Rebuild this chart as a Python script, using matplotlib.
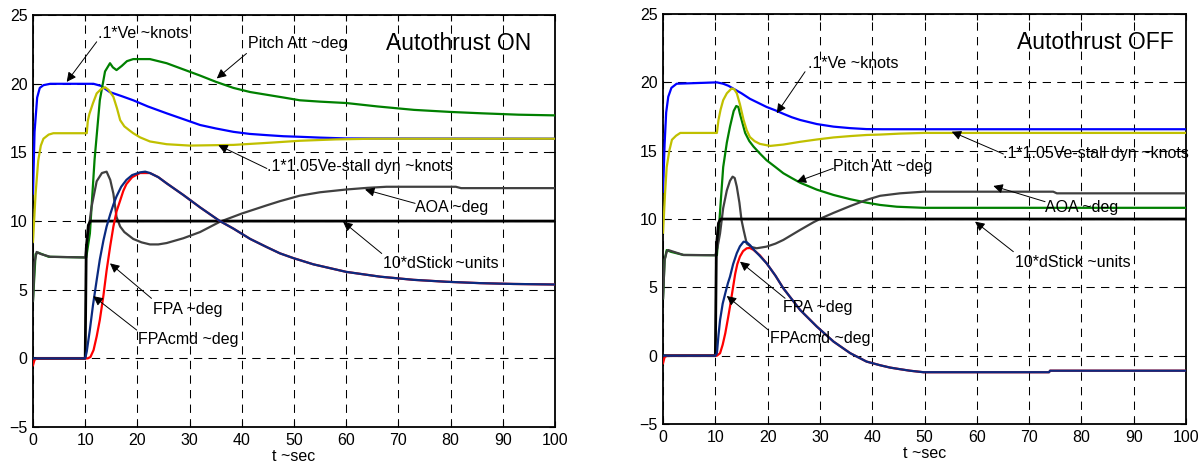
import matplotlib
matplotlib.use("Agg")
import matplotlib.pyplot as plt

plt.rcParams['font.family'] = ['Liberation Sans', 'DejaVu Sans']

# ---------------- Autothrust ON (panel izquierdo) ----------------
t_ve_on = [0, 0.3, 0.8, 1.3, 2, 3.3, 11.6, 13, 14.7, 17, 19.2, 22, 25.6, 29, 32, 35, 38.4,
           41.5, 44.8, 48, 51.1, 55, 60, 100]
ve_on = [12.0, 16.5, 19.0, 19.7, 19.9, 20.0, 20.0, 19.85, 19.4, 19.1, 18.8, 18.35, 17.85, 17.4,
         17.0, 16.75, 16.5, 16.35, 16.26, 16.18, 16.14, 16.08, 16.02, 16.0]

t_stall_on = [0, 0.5, 1, 1.5, 2, 3, 3.9, 10.3, 10.5, 10.8, 11.5, 12.2, 13, 13.8, 14.5, 15.4,
              16.1, 16.7, 17.5, 18.5, 19.2, 20.5, 22.4, 25.6, 30, 38.4, 45, 51.1, 58, 65, 100]
stall_on = [8.5, 12.0, 14.4, 15.5, 16.0, 16.3, 16.4, 16.4, 17.3, 17.8, 18.6, 19.3, 19.6, 19.75,
            19.55, 19.05, 18.2, 17.35, 16.9, 16.6, 16.4, 16.1, 15.8, 15.6, 15.5, 15.55, 15.7,
            15.85, 15.95, 16.0, 16.0]

t_pitch_on = [0, 0.5, 1, 3, 10.2, 10.9, 11.8, 12.8, 13.8, 14.75, 15.3, 16, 17, 18, 19.2, 22.4,
              25.6, 28.8, 32, 35, 38.4, 41.6, 44.8, 48, 51.1, 55, 60, 66, 73, 80, 86, 93, 100]
pitch_on = [4.2, 7.6, 7.7, 7.4, 7.35, 9.1, 14.5, 18.8, 20.9, 21.5, 21.2, 21.0, 21.3, 21.65,
            21.8, 21.8, 21.5, 21.05, 20.6, 20.15, 19.7, 19.4, 19.2, 19.0, 18.8, 18.7, 18.6,
            18.35, 18.1, 17.95, 17.85, 17.75, 17.7]

t_aoa_on = [0, 0.3, 0.7, 1.5, 3.3, 10.0, 10.4, 11.2, 12.2, 13.2, 14.1, 14.8, 15.4, 16.0, 16.7,
            17.5, 19.2, 20.8, 22.4, 24, 25.6, 28.8, 32, 35.8, 40, 44.8, 47.3, 51.1, 55, 60, 64,
            67.7, 81, 82, 100]
aoa_on = [4.2, 7.0, 7.75, 7.6, 7.4, 7.35, 8.6, 11.0, 12.9, 13.5, 13.6, 13.0, 12.0, 10.3, 9.6,
          9.2, 8.7, 8.45, 8.3, 8.3, 8.4, 8.75, 9.2, 9.95, 10.55, 11.15, 11.45, 11.85, 12.1,
          12.3, 12.42, 12.5, 12.5, 12.4, 12.4]

t_stick_on = [0, 10.0, 10.2, 10.6, 11, 100]
stick_on = [0, 0, 8, 9.7, 10, 10]

t_fpacmd_on = [0, 0.3, 0.8, 10.5, 11.0, 11.6, 12.2, 12.8, 13.5, 14.1, 14.8, 15.4, 16.0, 16.7,
               17.3, 17.9, 19, 20.5, 22.4, 24, 25.6, 28.8, 32, 35.8, 38.4, 41.6, 44.8, 47.3,
               49.9, 53.7, 60, 66.5, 72.9, 79.2, 85.6, 92, 100]
fpacmd_on = [-0.5, -0.1, 0.0, 0.0, 0.1, 0.6, 1.6, 2.8, 4.6, 6.4, 8.2, 9.6, 10.7, 11.5, 12.2,
             12.7, 13.2, 13.5, 13.5, 13.2, 12.75, 11.9, 11.0, 10.0, 9.45, 8.7, 8.1, 7.65, 7.3,
             6.85, 6.3, 5.95, 5.72, 5.58, 5.48, 5.42, 5.38]

t_fpa_on = [0, 10.0, 10.3, 10.9, 11.5, 12.2, 12.8, 13.5, 14.1, 14.8, 15.4, 16.0, 16.9, 17.9,
            19, 20.5, 21.5, 22.4, 24, 25.6, 28.8, 32, 35.8, 38.4, 41.6, 44.8, 47.3, 49.9, 53.7,
            60, 66.5, 72.9, 79.2, 85.6, 92, 100]
fpa_on = [0, 0, 0.5, 2.1, 3.9, 5.7, 7.2, 8.6, 9.6, 10.5, 11.2, 11.8, 12.5, 13.0, 13.35, 13.55,
          13.6, 13.5, 13.2, 12.75, 11.9, 11.0, 10.0, 9.45, 8.7, 8.1, 7.65, 7.3, 6.85, 6.3,
          5.95, 5.72, 5.58, 5.48, 5.42, 5.38]

# ---------------- Autothrust OFF (panel derecho) ----------------
t_ve_off = [0, 0.3, 0.6, 1, 1.6, 2.6, 10.3, 11.5, 12.5, 13.4, 15, 16.6, 18.2, 19.8, 21.5, 23,
            24.6, 26.2, 29.4, 32.6, 35.8, 38.9, 42, 100]
ve_off = [12.0, 15.5, 17.8, 18.95, 19.6, 19.9, 20.0, 19.9, 19.75, 19.55, 19.2, 18.8, 18.5,
          18.2, 17.95, 17.7, 17.45, 17.25, 16.95, 16.76, 16.65, 16.58, 16.57, 16.57]

t_stall_off = [0, 0.4, 0.7, 1.2, 1.7, 2.5, 3.3, 10.3, 10.6, 11.0, 11.5, 12.2, 13.1, 13.6,
               14.1, 14.7, 15.4, 16.0, 16.6, 17.5, 18.5, 20.5, 23, 26.2, 29.4, 32.6, 35.8,
               38.9, 41.5, 45.3, 49.8, 100]
stall_off = [9.0, 12.0, 13.8, 15.0, 15.8, 16.1, 16.3, 16.3, 17.25, 18.0, 18.7, 19.2, 19.55,
             19.5, 19.2, 18.4, 17.25, 16.5, 16.0, 15.7, 15.5, 15.35, 15.45, 15.65, 15.82,
             15.97, 16.07, 16.15, 16.18, 16.25, 16.3, 16.3]

t_pitch_off = [0, 0.3, 0.7, 1.5, 3.9, 10.3, 10.6, 11.0, 11.5, 12.2, 12.8, 13.5, 14.0, 14.4,
               14.7, 15.2, 15.7, 16.5, 17.3, 18.5, 19.8, 21.5, 23, 24.6, 26.2, 29.4, 32.6,
               35.8, 38.9, 41.5, 44.7, 49.8, 100]
pitch_off = [4.2, 7.0, 7.73, 7.6, 7.37, 7.35, 8.9, 11.1, 13.8, 15.6, 16.76, 17.9, 18.27, 18.2,
             17.7, 17.0, 16.3, 15.7, 15.3, 14.8, 14.3, 13.8, 13.35, 13.0, 12.66, 12.15, 11.76,
             11.45, 11.2, 11.03, 10.9, 10.82, 10.82]

t_aoa_off = [0, 0.3, 0.7, 1.0, 3.9, 10.0, 10.4, 10.9, 11.5, 12.2, 12.8, 13.3, 13.7, 14.1,
             14.6, 15.0, 15.4, 16.0, 16.9, 17.9, 19.8, 21.5, 23, 26.2, 28.7, 30.5, 32.6, 35.8,
             38.9, 41.5, 45.3, 49.8, 74.6, 75.3, 100]
aoa_off = [4.2, 7.0, 7.6, 7.73, 7.37, 7.35, 7.9, 8.95, 10.8, 12.1, 12.8, 13.1, 13.0, 12.37,
           11.2, 9.93, 9.2, 8.2, 7.95, 7.86, 7.98, 8.2, 8.47, 9.2, 9.75, 10.1, 10.45, 10.95,
           11.4, 11.7, 11.88, 12.0, 12.0, 11.88, 11.88]

t_stick_off = [0, 10.0, 10.2, 10.6, 11, 100]
stick_off = [0, 0, 8, 9.7, 10, 10]

t_fpacmd_off = [0, 0.3, 0.8, 10.3, 10.9, 11.4, 11.9, 12.4, 12.8, 13.3, 13.8, 14.2, 14.7, 15.3,
                16.0, 16.6, 17.3, 18.5, 19.8, 21.5, 23, 26.2, 29.4, 32.6, 35.8, 38.9, 41.5,
                43.4, 45, 47.2, 49.8, 73.8, 74, 100]
fpacmd_off = [-0.55, -0.1, 0, 0, 0.18, 0.8, 1.64, 2.7, 3.59, 4.8, 6.0, 6.7, 7.25, 7.65, 7.86,
              7.88, 7.74, 7.35, 6.76, 5.85, 4.93, 3.35, 2.13, 1.03, 0.18, -0.43, -0.7, -0.87,
              -0.97, -1.1, -1.21, -1.21, -1.1, -1.1]

t_fpa_off = [0, 10.0, 10.3, 10.6, 10.9, 11.4, 11.9, 12.4, 12.8, 13.4, 14.1, 14.7, 15.4, 16.0,
             16.6, 17.5, 18.5, 19.8, 21.5, 23, 26.2, 29.4, 32.6, 35.8, 38.9, 41.5, 43.4, 45,
             47.2, 49.8, 73.8, 74, 100]
fpa_off = [0, 0, 0.18, 1.5, 2.6, 3.8, 4.57, 5.3, 5.78, 6.7, 7.5, 8.0, 8.34, 8.3, 8.1, 7.7, 7.3,
           6.76, 5.85, 4.93, 3.35, 2.13, 1.03, 0.18, -0.43, -0.7, -0.87, -0.97, -1.1, -1.21,
           -1.21, -1.1, -1.1]

# etiquetas
texto_ve = '.1*Ve ~knots'
texto_pitch = 'Pitch Att ~deg'
texto_stall = '.1*1.05Ve-stall dyn ~knots'
texto_aoa = 'AOA ~deg'
texto_stick = '10*dStick ~units'
texto_fpa = 'FPA ~deg'
texto_fpacmd = 'FPAcmd ~deg'


def dibujar_panel(ax, series, notas, titulo):
    # curvas en el orden en que se superponen
    for t, v, color, lw in series:
        ax.plot(t, v, color=color, lw=lw, zorder=3)

    # flechas con su texto (punta, cola, posicion del texto)
    for texto, punta, cola, pos in notas:
        ax.annotate('', xy=punta, xytext=cola, zorder=5,
                    arrowprops=dict(arrowstyle='-|>', color='k', lw=0.7,
                                    mutation_scale=14, shrinkA=0, shrinkB=0))
        ax.text(pos[0], pos[1], texto, fontsize=11.5, ha='left', va='center', zorder=6)

    ax.text(67.6, 22.9, titulo, fontsize=16.5, ha='left', va='center', zorder=6)

    ax.set_xlim(0, 100)
    ax.set_ylim(-5, 25)
    ax.set_xticks(range(0, 101, 10))
    ax.set_yticks(range(-5, 26, 5))
    ax.grid(True, color='k', lw=0.75, linestyle=(0, (8, 6)))
    ax.set_axisbelow(True)
    ax.tick_params(direction='in', length=4, labelsize=11.5, top=True, right=True, pad=4)
    for s in ax.spines.values():
        s.set_linewidth(1.3)
    ax.set_xlabel('t ~sec', fontsize=11.5, labelpad=1)


fig = plt.figure(figsize=(12.04, 4.68), dpi=100)
ax1 = fig.add_axes([0.0274, 0.0876, 0.4336, 0.880])
ax2 = fig.add_axes([0.5507, 0.094, 0.4344, 0.876])

series_on = [
    (t_ve_on, ve_on, '#0000ff', 1.6),
    (t_pitch_on, pitch_on, '#008000', 1.6),
    (t_stall_on, stall_on, '#c0c000', 1.6),
    (t_aoa_on, aoa_on, '#404040', 1.6),
    (t_stick_on, stick_on, '#000000', 2.0),
    (t_fpacmd_on, fpacmd_on, '#ff0000', 1.6),
    (t_fpa_on, fpa_on, '#0a2a80', 1.6),
]
notas_on = [
    (texto_ve, (6.46, 20.14), (12.2, 23.06), (12.45, 23.69)),
    (texto_pitch, (35.2, 20.39), (40.9, 22.21), (41.1, 22.94)),
    (texto_stall, (35.5, 15.53), (44.8, 13.83), (44.8, 13.95)),
    (texto_aoa, (63.6, 12.3), (73.2, 11.29), (73.2, 11.0)),
    (texto_stick, (59.4, 9.95), (66.8, 7.64), (67.1, 6.92)),
    (texto_fpa, (14.75, 6.92), (22.7, 4.37), (23.05, 3.57)),
    (texto_fpacmd, (11.55, 4.53), (19.87, 2.06), (20.17, 1.38)),
]
dibujar_panel(ax1, series_on, notas_on, 'Autothrust ON')

series_off = [
    (t_ve_off, ve_off, '#0000ff', 1.6),
    (t_pitch_off, pitch_off, '#008000', 1.6),
    (t_stall_off, stall_off, '#c0c000', 1.6),
    (t_aoa_off, aoa_off, '#404040', 1.6),
    (t_stick_off, stick_off, '#000000', 2.0),
    (t_fpacmd_off, fpacmd_off, '#ff0000', 1.6),
    (t_fpa_off, fpa_off, '#0a2a80', 1.6),
]
notas_off = [
    (texto_ve, (21.74, 17.74), (27.15, 20.78), (27.8, 21.39)),
    (texto_pitch, (25.56, 12.73), (32.56, 13.71), (32.56, 13.83)),
    (texto_stall, (55.2, 16.39), (65.07, 14.76), (65.07, 14.76)),
    (texto_aoa, (63.15, 12.42), (73.04, 11.27), (73.04, 10.86)),
    (texto_stick, (59.66, 9.81), (66.98, 7.61), (67.3, 6.81)),
    (texto_fpa, (14.72, 6.88), (23.33, 4.2), (23.0, 3.54)),
    (texto_fpacmd, (12.18, 4.37), (20.13, 1.88), (20.46, 1.28)),
]
dibujar_panel(ax2, series_off, notas_off, 'Autothrust OFF')

fig.savefig('out.png', dpi=100)
